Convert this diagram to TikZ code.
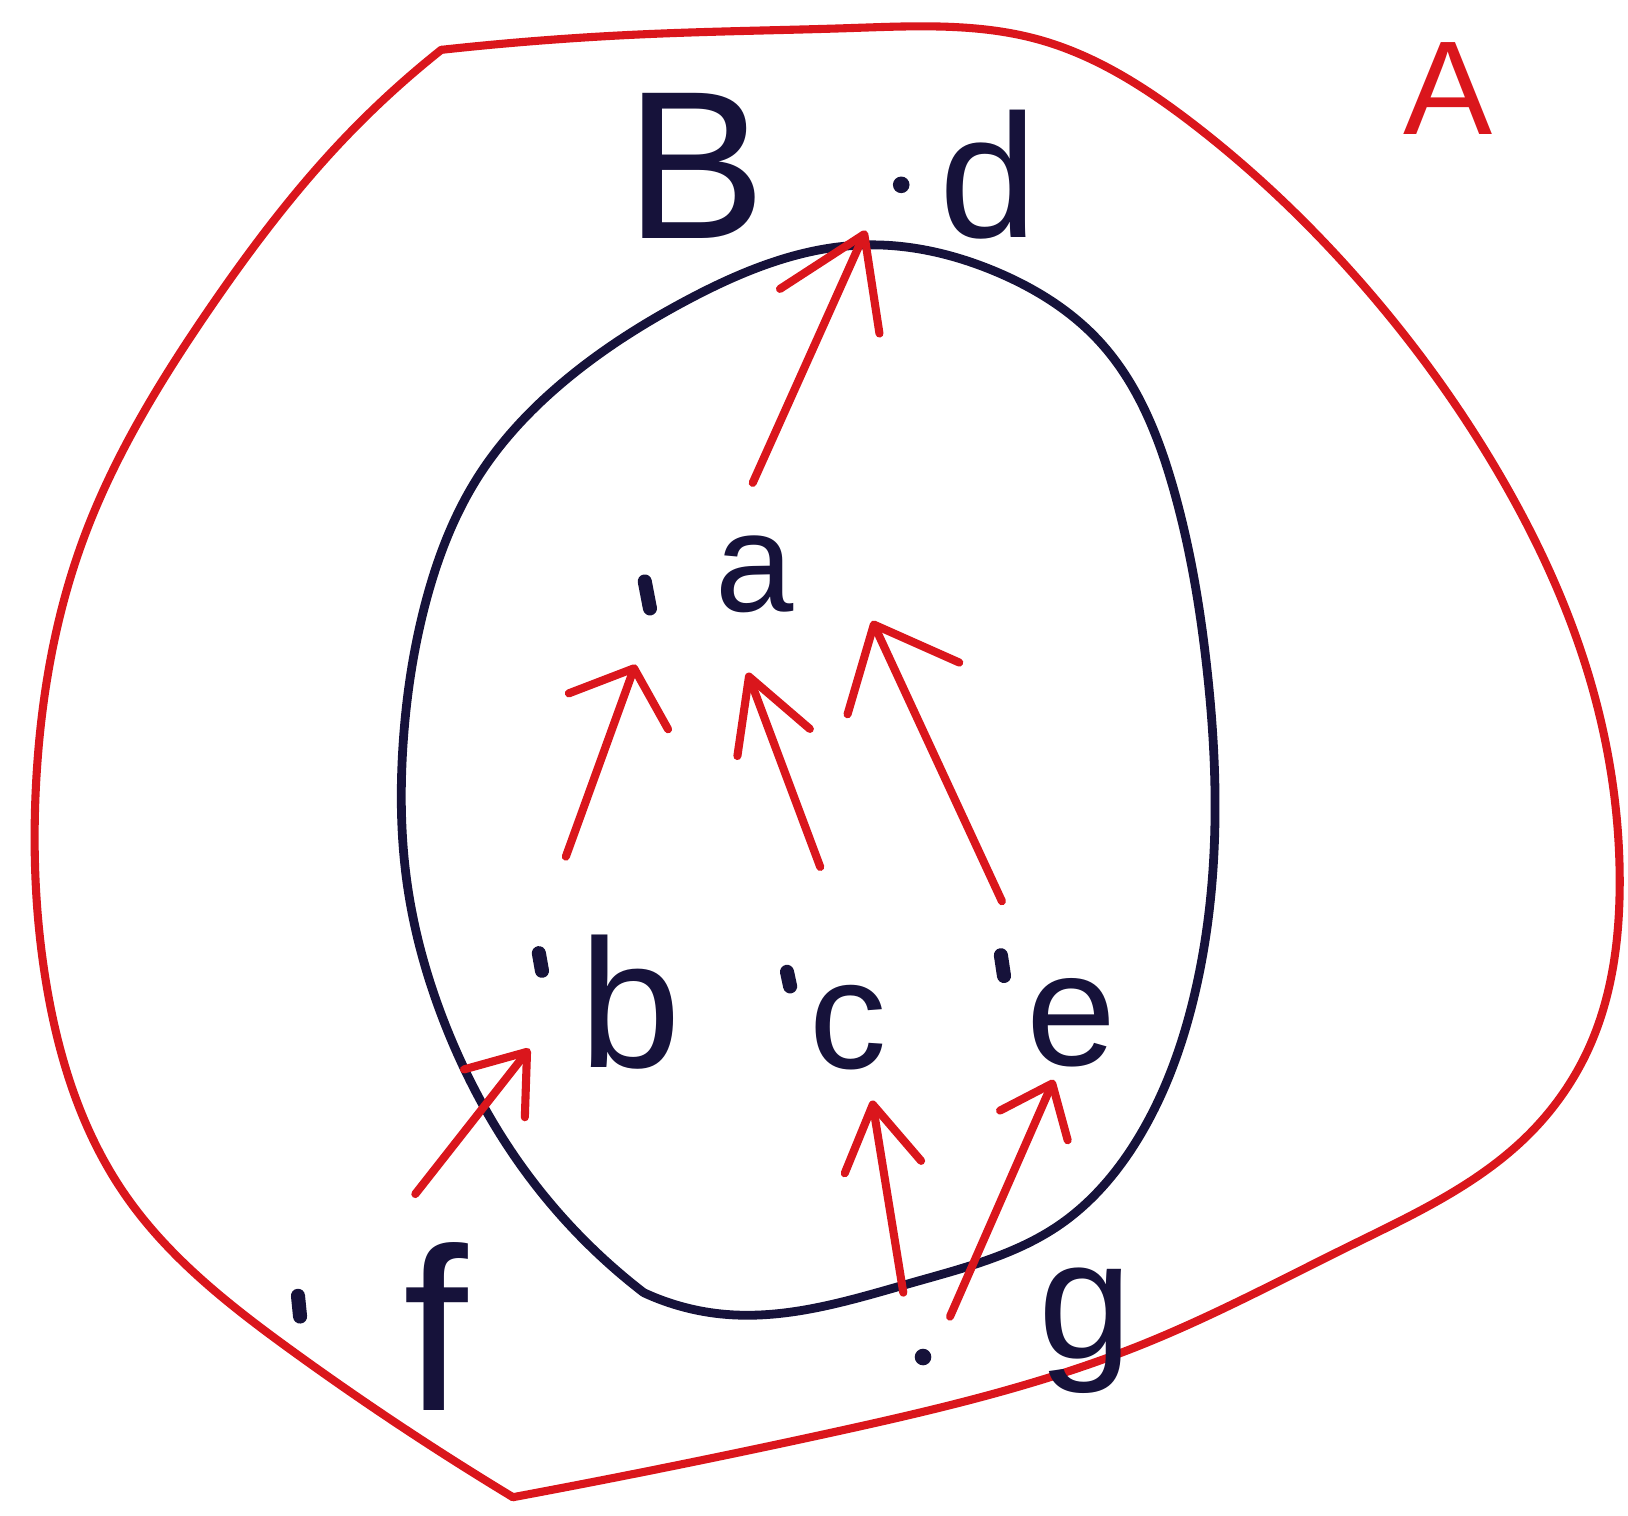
\documentclass[tikz,border=0pt]{standalone}
\usepackage{fontspec}
\setmainfont{Liberation Sans}
\usetikzlibrary{arrows.meta,hobby}
\definecolor{redink}{RGB}{218,22,28}
\definecolor{blueink}{RGB}{22,18,58}
\newcommand{\fsz}[1]{\fontsize{#1}{#1}\selectfont}
\begin{document}
\begin{tikzpicture}[x=0.01038cm,y=-0.01038cm,
  redline/.style={draw=redink,line width=2.3pt,line cap=round,line join=round},
  inkline/.style={draw=blueink,line width=2.5pt,line cap=round,line join=round},
  arr/.style 2 args={redline,-{Straight Barb[length=#1,width=#2,line cap=round,line join=round]}},
  lbl/.style={inner sep=0pt,text=blueink},
  tick/.style={draw=blueink,line width=4pt,line cap=round}]
\useasboundingbox[fill=white] (0,0) rectangle (1568,1460);

% outer red set A
\draw[redline,use Hobby shortcut] (494,1442) .. (280,1300) .. (120,1150)
 .. (45,950) .. (35,750) .. (80,520) .. (200,300) .. (330,135) .. (425,48);
\draw[redline,use Hobby shortcut] (425,48) .. (620,33) .. (820,27)
 .. (1000,38) .. (1150,120) .. (1300,260) .. (1440,450) .. (1530,650)
 .. (1560,850) .. (1530,1010) .. (1470,1095) .. (1300,1200)
 .. (1100,1295) .. (800,1380) .. (494,1442);

% inner black set B
\draw[inkline,use Hobby shortcut] (620,1245) .. (500,1120) .. (430,990)
 .. (392,850) .. (388,720) .. (410,580) .. (460,460) .. (540,370)
 .. (660,290) .. (830,236) .. (960,262) .. (1060,330) .. (1130,470)
 .. (1162,640) .. (1170,800) .. (1150,960) .. (1100,1090) .. (1020,1180)
 .. (880,1235) .. (700,1266) .. (620,1245);

% labels
\node[inner sep=0pt,text=redink,font=\fsz{38}] (A) at (1395,85) {A};
\node[lbl,font=\fsz{60}] (B) at (670,160) {B};
\node[lbl,font=\fsz{50}] (d) at (952,168) {d};
\node[lbl,font=\fsz{40}] (a) at (727,553) {a};
\node[lbl,font=\fsz{52}] (b) at (607,965) {b};
\node[lbl,font=\fsz{44}] (c) at (817,990) {c};
\node[lbl,font=\fsz{46}] (e) at (1032,985) {e};
\node[lbl,font=\fsz{66}] (f) at (420,1278) {f};
\node[lbl,font=\fsz{48}] (g) at (1045,1282) {g};

% element marks
\fill[blueink] (868,178) circle (8);
\draw[tick] (621,560) -- (626,586);
\draw[tick] (519,918) -- (522,935);
\draw[tick] (758,936) -- (761,950);
\draw[tick] (964,920) -- (967,940);
\draw[tick] (287,1248) -- (289,1268);
\fill[blueink] (889,1307) circle (8);

% arrow end points
\coordinate (ad1) at (725,465);  \coordinate (ad2) at (834,222);
\coordinate (ba1) at (545,825);  \coordinate (ba2) at (612,640);
\coordinate (ca1) at (790,835);  \coordinate (ca2) at (720,648);
\coordinate (ea1) at (965,868);  \coordinate (ea2) at (840,598);
\coordinate (fb1) at (400,1150); \coordinate (fb2) at (510,1010);
\coordinate (gc1) at (870,1245); \coordinate (gc2) at (840,1060);
\coordinate (ge1) at (915,1268); \coordinate (ge2) at (1015,1040);

\draw[arr={24pt}{31pt}] (ad1) -- (ad2);
\draw[arr={13pt}{30pt}] (ba1) -- (ba2);
\draw[arr={20pt}{22pt}] (ca1) -- (ca2);
\draw[arr={20pt}{35pt}] (ea1) -- (ea2);
\draw[arr={15pt}{22pt}] (fb1) -- (fb2);
\draw[arr={18pt}{22pt}] (gc1) -- (gc2);
\draw[arr={13pt}{21pt}] (ge1) -- (ge2);
\end{tikzpicture}
\end{document}
